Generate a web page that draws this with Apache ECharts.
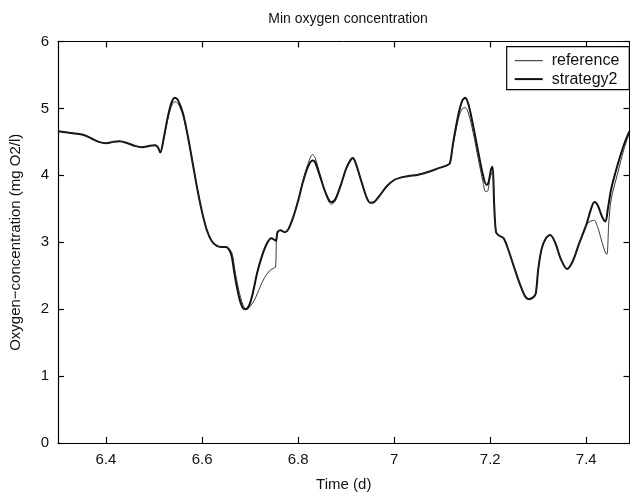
<!DOCTYPE html>
<html><head><meta charset="utf-8">
<script src="https://cdn.jsdelivr.net/npm/echarts@6/dist/echarts.min.js"></script>
<style>html,body{margin:0;padding:0;background:#fff}#c{width:632px;height:497px}</style>
</head><body><div id="c"></div>
<script>
const xTicks = [6.4, 6.6, 6.8, 7.0, 7.2, 7.4];
const xTickLabels = ['6.4', '6.6', '6.8', '7', '7.2', '7.4'];
const seriesNames = ['reference', 'strategy2'];

const s2Time = [6.300,6.320,6.340,6.355,6.370,6.385,6.400,6.415,6.428,6.445,6.460,6.475,6.490,6.502,6.508,6.513,6.520,6.528,6.536,6.543,6.550,6.560,6.570,6.580,6.590,6.600,6.610,6.620,6.630,6.640,6.650,6.657,6.662,6.667,6.672,6.678,6.684,6.690,6.697,6.705,6.715,6.725,6.735,6.744,6.750,6.754,6.757,6.763,6.772,6.780,6.790,6.800,6.810,6.820,6.830,6.835,6.845,6.855,6.865,6.870,6.878,6.890,6.900,6.910,6.914,6.920,6.930,6.942,6.950,6.958,6.970,6.985,7.000,7.015,7.030,7.050,7.070,7.090,7.110,7.116,7.122,7.128,7.135,7.142,7.148,7.155,7.165,7.175,7.185,7.192,7.196,7.202,7.205,7.208,7.212,7.218,7.228,7.238,7.250,7.262,7.272,7.280,7.290,7.295,7.300,7.307,7.316,7.325,7.335,7.347,7.360,7.372,7.385,7.400,7.410,7.417,7.424,7.433,7.440,7.445,7.452,7.465,7.478,7.490];
const s2Vals = [4.66,4.64,4.62,4.60,4.55,4.50,4.48,4.50,4.51,4.48,4.44,4.42,4.44,4.45,4.42,4.34,4.55,4.85,5.08,5.16,5.12,4.93,4.60,4.20,3.80,3.45,3.18,3.02,2.95,2.93,2.93,2.88,2.78,2.55,2.35,2.15,2.03,2.00,2.04,2.22,2.55,2.80,2.98,3.06,3.04,3.02,3.15,3.18,3.15,3.20,3.38,3.62,3.90,4.12,4.22,4.20,4.00,3.78,3.62,3.60,3.65,3.88,4.10,4.24,4.26,4.18,3.95,3.68,3.59,3.60,3.70,3.84,3.93,3.97,3.99,4.01,4.05,4.10,4.15,4.18,4.45,4.70,4.95,5.12,5.16,5.05,4.72,4.35,4.00,3.86,3.88,4.10,4.13,3.60,3.15,3.10,3.06,2.88,2.62,2.37,2.20,2.15,2.18,2.24,2.60,2.90,3.06,3.11,3.00,2.75,2.60,2.72,2.98,3.26,3.50,3.60,3.55,3.38,3.31,3.50,3.80,4.15,4.45,4.66];

const refTime = [6.300,6.320,6.340,6.355,6.370,6.385,6.400,6.415,6.428,6.445,6.460,6.475,6.490,6.502,6.508,6.513,6.520,6.528,6.536,6.543,6.550,6.560,6.570,6.580,6.590,6.600,6.610,6.620,6.630,6.640,6.650,6.657,6.663,6.668,6.673,6.680,6.686,6.692,6.700,6.710,6.720,6.730,6.740,6.748,6.753,6.755,6.758,6.763,6.772,6.780,6.790,6.800,6.810,6.820,6.830,6.835,6.845,6.855,6.865,6.870,6.878,6.890,6.900,6.910,6.914,6.920,6.930,6.942,6.950,6.958,6.970,6.985,7.000,7.015,7.030,7.050,7.070,7.090,7.110,7.116,7.122,7.128,7.135,7.142,7.148,7.155,7.165,7.175,7.185,7.190,7.194,7.200,7.205,7.208,7.212,7.218,7.228,7.238,7.250,7.262,7.272,7.280,7.290,7.295,7.300,7.307,7.316,7.325,7.335,7.347,7.360,7.372,7.385,7.400,7.408,7.416,7.424,7.432,7.440,7.443,7.447,7.452,7.465,7.478,7.490];
const refVals = [4.66,4.64,4.62,4.60,4.55,4.50,4.48,4.50,4.51,4.48,4.44,4.42,4.44,4.45,4.42,4.34,4.53,4.82,5.03,5.10,5.07,4.90,4.58,4.20,3.80,3.45,3.18,3.02,2.95,2.93,2.93,2.90,2.82,2.60,2.40,2.18,2.05,2.00,2.04,2.15,2.32,2.47,2.57,2.61,2.63,3.08,3.15,3.18,3.15,3.20,3.38,3.62,3.92,4.16,4.31,4.27,4.03,3.78,3.59,3.57,3.63,3.87,4.10,4.22,4.25,4.18,3.95,3.68,3.59,3.60,3.70,3.84,3.93,3.97,3.99,4.01,4.05,4.10,4.15,4.18,4.43,4.65,4.88,5.00,5.01,4.92,4.62,4.25,3.90,3.76,3.76,3.98,4.05,3.60,3.15,3.10,3.06,2.88,2.62,2.37,2.20,2.15,2.18,2.24,2.60,2.90,3.06,3.11,3.00,2.75,2.60,2.72,2.98,3.26,3.31,3.33,3.22,3.02,2.84,2.82,3.30,3.65,4.02,4.38,4.64];

const zip = (a, b) => a.map((t, i) => [t, b[i]]);
const FONT = "'Liberation Sans', Arial, sans-serif";
const chart = echarts.init(document.getElementById('c'), null, {renderer: 'canvas'});

const tickLabel = v => { const i = xTicks.indexOf(v); return i >= 0 ? xTickLabels[i] : String(v); };
const tickStyle = {color: '#000', width: 1.2};

chart.setOption({
  animation: false,
  backgroundColor: '#fff',
  textStyle: {fontFamily: FONT},
  title: {
    text: 'Min oxygen concentration', left: 343, top: 7, textAlign: 'center',
    textStyle: {fontFamily: FONT, fontSize: 14, fontWeight: 'normal', color: '#111'}
  },
  grid: {left: 56, right: 2.5, top: 41.5, bottom: 50.2, containLabel: false},
  legend: {
    orient: 'vertical', left: 506.7, top: 46.7,
    data: [
      {name: seriesNames[0], icon: 'path://M0,0 L28,0 L28,1 L0,1 Z'},
      {name: seriesNames[1], icon: 'path://M0,0 L28,0 L28,2 L0,2 Z'}
    ],
    symbolKeepAspect: true,
    itemWidth: 28, itemHeight: 14, itemGap: 2.4,
    padding: [6, 10, 2.5, 8],
    itemStyle: {borderWidth: 0},
    borderColor: '#000', borderWidth: 1.2, backgroundColor: '#fff',
    textStyle: {fontFamily: FONT, fontSize: 16, lineHeight: 14, color: '#111', padding: [0, 0, 0, 4]}
  },
  xAxis: [
    {
      type: 'value', min: 6.3, max: 7.49, position: 'bottom',
      splitLine: {show: false},
      axisLine: {show: true, onZero: false, lineStyle: {color: '#000', width: 1.2}},
      axisTick: {show: true, inside: true, length: 6, customValues: xTicks, lineStyle: tickStyle},
      name: 'Time (d)', nameLocation: 'middle', nameGap: 34,
      nameTextStyle: {fontFamily: FONT, fontSize: 15, color: '#111'},
      axisLabel: {show: true, customValues: xTicks, formatter: tickLabel, margin: 9,
        fontFamily: FONT, fontSize: 15, color: '#111'}
    },
    {
      type: 'value', min: 6.3, max: 7.49, position: 'top',
      splitLine: {show: false},
      axisLine: {show: true, onZero: false, lineStyle: {color: '#000', width: 1}},
      axisTick: {show: true, inside: true, length: 6, customValues: xTicks, lineStyle: tickStyle},
      axisLabel: {show: false}
    }
  ],
  yAxis: [
    {
      type: 'value', min: 0, max: 6, interval: 1, position: 'left',
      splitLine: {show: false},
      axisLine: {show: true, onZero: false, lineStyle: {color: '#000', width: 1.2}},
      axisTick: {show: true, inside: true, length: 6, lineStyle: tickStyle},
      name: 'Oxygen\u2212concentration (mg O2/l)', nameLocation: 'middle', nameGap: 35,
      nameTextStyle: {fontFamily: FONT, fontSize: 15, color: '#111'},
      axisLabel: {show: true, margin: 9, fontFamily: FONT, fontSize: 15, color: '#111'}
    },
    {
      type: 'value', min: 0, max: 6, interval: 1, position: 'right',
      splitLine: {show: false},
      axisLine: {show: true, onZero: false, lineStyle: {color: '#000', width: 1}},
      axisTick: {show: true, inside: true, length: 6, lineStyle: tickStyle},
      axisLabel: {show: false}
    }
  ],
  series: [
    {
      name: seriesNames[0], type: 'line', xAxisIndex: 0, yAxisIndex: 0,
      data: zip(refTime, refVals), symbol: 'none', smooth: 0.3, z: 3,
      lineStyle: {color: '#222', width: 0.9}, itemStyle: {color: '#222'}
    },
    {
      name: seriesNames[1], type: 'line', xAxisIndex: 0, yAxisIndex: 0,
      data: zip(s2Time, s2Vals), symbol: 'none', smooth: 0.3, z: 2,
      lineStyle: {color: '#111', width: 2}, itemStyle: {color: '#111'}
    },
    {
      type: 'line', xAxisIndex: 1, yAxisIndex: 1, data: [], silent: true, symbol: 'none'
    }
  ]
});
</script></body></html>
